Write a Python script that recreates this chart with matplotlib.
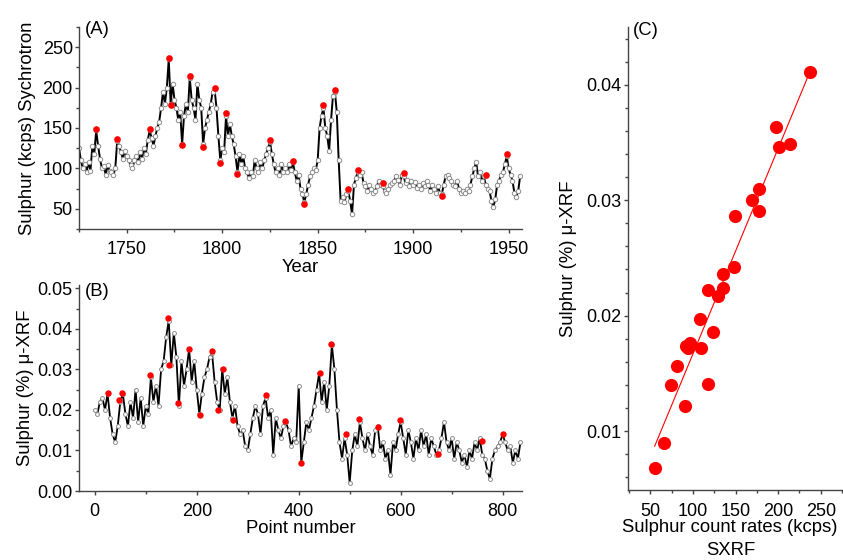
import numpy as np
import matplotlib
matplotlib.use("Agg")
import matplotlib.pyplot as plt
from matplotlib.ticker import MultipleLocator, FormatStrFormatter

plt.rcParams['font.family'] = ['Liberation Sans', 'DejaVu Sans']

# (A) synchrotron sulphur counts, one value per year starting in 1725
year_start = 1725
sxrf_counts = [
    125, 110, 100, 106, 96,                                  # 1725-1729
    108, 97, 128, 118, 147, 128, 112, 100, 103, 92,          # 1730s
    104, 97, 95, 92, 100, 134, 128, 120, 112, 122,           # 1740s
    115, 110, 104, 100, 110, 115, 108, 120, 112, 125,        # 1750s
    118, 135, 147, 138, 128, 140, 150, 158, 175, 195,        # 1760s
    180, 200, 235, 180, 205, 185, 175, 160, 170, 130,        # 1770s
    165, 180, 170, 212, 185, 175, 160, 205, 185, 175,        # 1780s
    130, 150, 160, 170, 180, 195, 198, 175, 140, 110,        # 1790s
    125, 120, 165, 140, 155, 140, 130, 115, 95, 118,         # 1800s
    105, 115, 100, 95, 88, 95, 90, 110, 100, 95,             # 1810s
    108, 100, 110, 118, 125, 133, 118, 105, 95, 100,         # 1820s
    92, 105, 95, 100, 95, 105, 98, 108, 95, 85,              # 1830s
    92, 75, 68, 58, 68, 80, 90, 95, 100, 98,                 # 1840s
    110, 150, 165, 175, 150, 140, 122, 160, 190, 195,        # 1850s
    170, 110, 60, 65, 58, 68, 72, 60, 43, 80,                # 1860s
    88, 96, 92, 95, 82, 78, 72, 80, 74, 70,                  # 1870s
    72, 78, 85, 80, 78, 72, 70, 75, 80, 82,                  # 1880s
    85, 90, 86, 80, 92, 90, 82, 86, 78, 85,                  # 1890s
    80, 83, 76, 80, 74, 82, 78, 84, 80, 72,                  # 1900s
    80, 75, 70, 78, 70, 68, 80, 90, 92, 88,                  # 1910s
    84, 80, 78, 84, 75, 70, 72, 70, 75, 72,                  # 1920s
    80, 90, 100, 108, 90, 95, 85, 90, 80, 75,                # 1930s
    72, 60, 52, 62, 80, 85, 92, 95, 105, 115,                # 1940s
    100, 92, 85, 70, 65, 72, 90,                             # 1950-1956
]
peak_years = [1734, 1745, 1762, 1772, 1773, 1779, 1783, 1790, 1796, 1799,
              1802, 1808, 1825, 1837, 1843, 1853, 1859, 1866, 1871, 1884,
              1895, 1915, 1938, 1949]
peak_counts = [149, 136, 149, 237, 178, 129, 214, 126, 200, 107,
               169, 93, 135, 109, 56, 178, 197, 74, 98, 82,
               94, 66, 92, 118]

# (B) micro-XRF sulphur %, every 5th point number
point_step = 5
uxrf_pct = [
    0.020, 0.019, 0.022, 0.023, 0.020, 0.024, 0.018, 0.014, 0.012, 0.016,
    0.022, 0.024, 0.019, 0.016, 0.022, 0.018, 0.025, 0.017, 0.023, 0.016,
    0.021, 0.019, 0.028, 0.022, 0.026, 0.021, 0.030, 0.032, 0.038, 0.042,
    0.031, 0.039, 0.033, 0.021, 0.032, 0.026, 0.030, 0.035, 0.027, 0.032,
    0.025, 0.019, 0.024, 0.028, 0.030, 0.033, 0.034, 0.027, 0.022, 0.020,
    0.030, 0.024, 0.028, 0.022, 0.018, 0.021, 0.016, 0.014, 0.015, 0.011,
    0.010, 0.014, 0.018, 0.021, 0.019, 0.014, 0.021, 0.023, 0.018, 0.020,
    0.009, 0.018, 0.015, 0.013, 0.016, 0.017, 0.015, 0.011, 0.013, 0.012,
    0.026, 0.007, 0.012, 0.017, 0.015, 0.018, 0.021, 0.025, 0.029, 0.022,
    0.027, 0.020, 0.026, 0.036, 0.030, 0.020, 0.012, 0.008, 0.013, 0.009,
    0.002, 0.010, 0.014, 0.011, 0.017, 0.013, 0.010, 0.014, 0.011, 0.009,
    0.015, 0.016, 0.010, 0.012, 0.008, 0.010, 0.004, 0.012, 0.010, 0.014,
    0.017, 0.013, 0.009, 0.015, 0.012, 0.008, 0.013, 0.010, 0.015, 0.011,
    0.014, 0.009, 0.013, 0.011, 0.009, 0.010, 0.013, 0.017, 0.012, 0.010,
    0.013, 0.008, 0.012, 0.010, 0.007, 0.009, 0.006, 0.010, 0.008, 0.012,
    0.010, 0.013, 0.009, 0.008, 0.005, 0.003, 0.008, 0.010, 0.011, 0.012,
    0.014, 0.012, 0.010, 0.011, 0.007, 0.010, 0.008, 0.012,
]
peak_points = [26, 47, 53, 109, 143, 146, 164, 184, 207, 230, 241, 251, 272,
               335, 374, 404, 441, 463, 492, 518, 556, 598, 674, 760, 801]
peak_pct = [0.0242, 0.0224, 0.0242, 0.0286, 0.0427, 0.0311, 0.0217, 0.0350,
            0.0187, 0.0346, 0.0199, 0.0301, 0.0176, 0.0236, 0.0172, 0.0069,
            0.0292, 0.0363, 0.0141, 0.0177, 0.0157, 0.0174, 0.0091, 0.0123,
            0.0141]

# (C) matched peaks: SXRF counts vs micro-XRF %
match_kcps = [238, 197, 201, 214, 178, 169, 178, 149, 148, 135, 135, 118, 129,
              108, 123, 92, 97, 94, 109, 81, 74, 118, 91, 66, 55]
match_pct = [0.0411, 0.0363, 0.0346, 0.0349, 0.0310, 0.0300, 0.0291, 0.0286,
             0.0242, 0.0236, 0.0224, 0.0222, 0.0217, 0.0197, 0.0186, 0.0174,
             0.0176, 0.0172, 0.0172, 0.0156, 0.0140, 0.0141, 0.0122, 0.0090,
             0.0068]

W, H = 843, 560
LBL = 13.3
fig = plt.figure(figsize=(W / 100, H / 100), dpi=100)


def box(l, t, r, b):
    return [l / W, 1 - b / H, (r - l) / W, (b - t) / H]


def style(ax):
    for s in ['top', 'right']:
        ax.spines[s].set_visible(False)
    for s in ['left', 'bottom']:
        ax.spines[s].set_color('#444444')
        ax.spines[s].set_linewidth(1.0)
    ax.tick_params(which='both', direction='out', width=1, color='#444444')
    ax.tick_params(axis='x', which='major', length=3, labelsize=13, pad=6)
    ax.tick_params(axis='y', which='major', length=3, labelsize=13, pad=1.5)
    ax.tick_params(which='minor', length=2)


trace = dict(color='black', lw=1.4, marker='o', ms=3.2, mfc='white',
             mec='#8c8c8c', mew=0.7)

# panel A
axA = fig.add_axes(box(79, 27, 522, 229))
style(axA)
years = np.arange(year_start, year_start + len(sxrf_counts))
axA.plot(years, sxrf_counts, **trace)
axA.plot(peak_years, peak_counts, 'o', color='#ff0000', ms=4.8, mew=0)
axA.set_xlim(1725, 1957)
axA.set_ylim(25, 275)
axA.xaxis.set_major_locator(MultipleLocator(50))
axA.xaxis.set_minor_locator(MultipleLocator(25))
axA.yaxis.set_minor_locator(MultipleLocator(25))
axA.set_yticks([50, 100, 150, 200, 250])
axA.set_xlabel('Year', fontsize=LBL)
axA.xaxis.set_label_coords(0.5, -0.15)
axA.set_ylabel('Sulphur (kcps) Sychrotron', fontsize=LBL)
axA.yaxis.set_label_coords(-0.098, 0.5)
axA.text(0.014, 1.03, '(A)', transform=axA.transAxes, fontsize=LBL, va='top')

# panel B
axB = fig.add_axes(box(79, 285, 522, 491))
style(axB)
points = np.arange(0, len(uxrf_pct) * point_step, point_step)
axB.plot(points, uxrf_pct, **dict(trace, ms=2.8, lw=1.3))
axB.plot(peak_points, peak_pct, 'o', color='#ff0000', ms=4.6, mew=0)
axB.set_xlim(-31, 838)
axB.set_ylim(0, 0.0508)
axB.xaxis.set_major_locator(MultipleLocator(200))
axB.xaxis.set_minor_locator(MultipleLocator(100))
axB.set_yticks([0, 0.01, 0.02, 0.03, 0.04, 0.05])
axB.yaxis.set_minor_locator(MultipleLocator(0.005))
axB.yaxis.set_major_formatter(FormatStrFormatter('%.2f'))
axB.set_xlabel('Point number', fontsize=LBL)
axB.xaxis.set_label_coords(0.5, -0.14)
axB.set_ylabel('Sulphur (%) \u03bc-XRF', fontsize=LBL)
axB.yaxis.set_label_coords(-0.102, 0.5)
axB.text(0.014, 1.01, '(B)', transform=axB.transAxes, fontsize=LBL, va='top')

# panel C
axC = fig.add_axes(box(628, 27, 843, 490))
style(axC)
axC.scatter(match_kcps, match_pct, s=90, color='#ff0000', linewidths=0,
            zorder=3)
slope, icpt = np.polyfit(match_kcps, match_pct, 1)
xfit = np.array([min(match_kcps), max(match_kcps)])
axC.plot(xfit, slope * xfit + icpt, color='#ff0000', lw=0.8, zorder=2)
axC.set_xlim(23.7, 276.2)
axC.set_ylim(0.0049, 0.045)
axC.set_xticks([50, 100, 150, 200, 250])
axC.xaxis.set_minor_locator(MultipleLocator(25))
axC.set_yticks([0.01, 0.02, 0.03, 0.04])
axC.yaxis.set_minor_locator(MultipleLocator(0.002))
axC.set_xlabel('Sulphur count rates (kcps)', fontsize=LBL)
axC.xaxis.set_label_coords(0.475, -0.062)
axC.set_ylabel('Sulphur (%) \u03bc-XRF', fontsize=LBL)
axC.yaxis.set_label_coords(-0.235, 0.5)
axC.text(0.48, -0.113, 'SXRF', transform=axC.transAxes, fontsize=LBL,
         ha='center', va='top')
axC.text(0.023, 1.01, '(C)', transform=axC.transAxes, fontsize=LBL, va='top')

fig.savefig('out.png', dpi=100)
